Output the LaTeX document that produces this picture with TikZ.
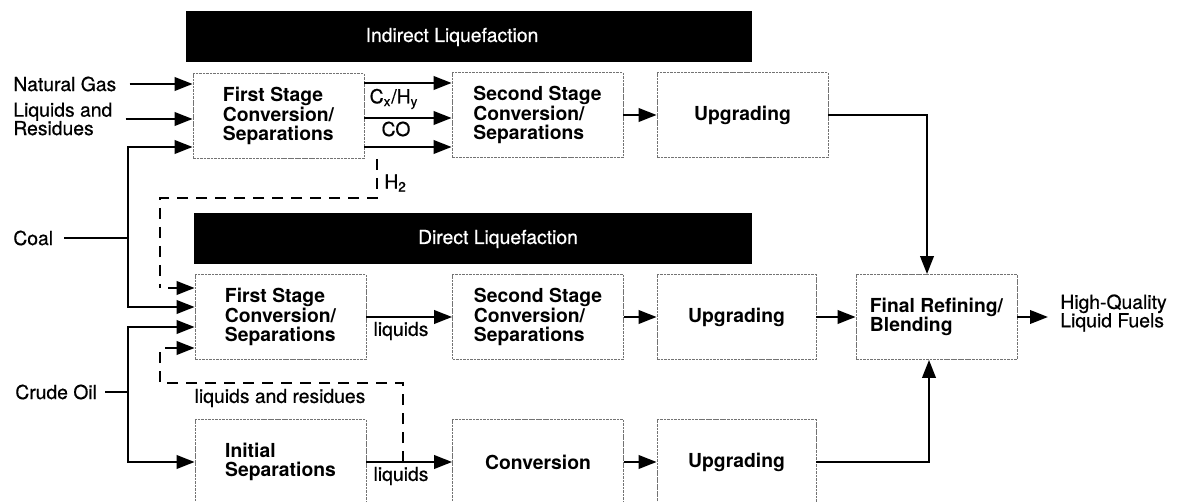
\documentclass[tikz,border=0pt]{standalone}
\usepackage{fontspec}
\setmainfont{TeX Gyre Heros}
\newfontfamily\medfont[FakeBold=0.6]{TeX Gyre Heros}
\usetikzlibrary{arrows.meta}

\tikzset{
  box/.style={draw=black!55,line width=0.5pt,dash pattern=on 1.5pt off 0.5pt,
    minimum width=3.42cm,minimum height=1.7cm,align=left,inner sep=0pt,
    font=\fontsize{11}{11.2}\selectfont\bfseries},
  bar/.style={fill=black,minimum height=1.02cm,inner sep=0pt},
  bartxt/.style={text=white,inner sep=0pt,font=\medfont\fontsize{11}{12}\selectfont},
  lbl/.style={align=left,inner sep=0pt,font=\medfont\fontsize{11}{10.5}\selectfont},
  flow/.style={line width=1.3pt},
  arr/.style={flow,-{Triangle[length=0.36cm,width=0.27cm]}},
  dsh/.style={line width=1.1pt,dash pattern=on 0.22cm off 0.16cm},
}

\begin{document}
\begin{tikzpicture}[x=0.02cm,y=-0.02cm]
  \useasboundingbox (0,0) rectangle (1200,502);
  \clip (0,0) rectangle (1200,502);
  \node[bar,minimum width=11.32cm] (indbar) at (469,37) {};
  \node[bartxt] (indtxt) at (452,37) {Indirect Liquefaction};
  \node[bar,minimum width=11.16cm] (dirbar) at (473,239) {};
  \node[bartxt] (dirtxt) at (498,239) {Direct Liquefaction};

  \node[box] (fsA) at (278.5,116) {First Stage\\Conversion/\\Separations};
  \node[box] (ssA) at (537.5,115) {Second Stage\\Conversion/\\Separations};
  \node[box] (upA) at (742.5,115) {Upgrading};
  \node[box] (fsB) at (280.5,317) {First Stage\\Conversion/\\Separations};
  \node[box] (ssB) at (538,317) {Second Stage\\Conversion/\\Separations};
  \node[box,minimum width=3.18cm] (upB) at (736.5,317) {Upgrading};
  \node[box,minimum width=3.22cm] (fin) at (936.5,317) {Final Refining/\\Blending};
  \node[box] (isC) at (280.5,462) {Initial\\Separations};
  \node[box] (cvC) at (538,462) {Conversion};
  \node[box,minimum width=3.18cm] (upC) at (736.5,462) {Upgrading};

  \node[lbl,anchor=west] (gas) at (13,84) {Natural Gas};
  \node[lbl,anchor=west] (liq) at (13,119) {Liquids and\\Residues};
  \node[lbl,anchor=west] (coal) at (13,238) {Coal};
  \node[lbl,anchor=west] (crude) at (15,392) {Crude Oil};
  \node[lbl,anchor=west] (fuels) at (1060,313) {High-Quality\\Liquid Fuels};
  \node[lbl] (cxhy) at (394,99) {C\textsubscript{x}/H\textsubscript{y}};
  \node[lbl] (co) at (396,129) {CO};
  \node[lbl,anchor=west] (htwo) at (384,183) {H\textsubscript{2}};
  \node[lbl] (liqB) at (401,331) {liquids};
  \node[lbl] (liqres) at (280,398) {liquids and residues};
  \node[lbl] (liqC) at (401,476) {liquids};

  \coordinate (coalj) at (128,238);
  \coordinate (crudej) at (128,392);
  \coordinate (htwoturn) at (160,288);
  \coordinate (lrsplit) at (403,462);
  \coordinate (lrturn) at (160,348);

  \draw[arr] ([xshift=0.26cm]gas.east) -- (fsA.west |- gas.east);
  \draw[arr] ([xshift=0.26cm]liq.east) -- (fsA.west |- liq.east);
  \draw[flow] ([xshift=0.22cm]coal.east) -- (coalj);
  \draw[arr] (coalj) |- (fsA.west |- 0,147);
  \draw[arr] (coalj) |- (fsB.west |- 0,307);
  \draw[flow] ([xshift=0.16cm]crude.east) -- (crudej);
  \draw[arr] (crudej) |- (fsB.west |- 0,327);
  \draw[arr] (crudej) |- (isC.west |- 0,462);

  \foreach \y in {83,118,147}
    \draw[arr] (fsA.east |- 0,\y) -- (ssA.west |- 0,\y);
  \draw[arr] (ssA) -- (upA);
  \draw[arr] (fsB) -- (ssB);
  \draw[arr] (ssB) -- (upB);
  \draw[arr] (upB) -- (fin);
  \draw[arr] (isC) -- (cvC);
  \draw[arr] (cvC) -- (upC);
  \draw[arr] (upA.east) -| (fin.north -| 927,0);
  \draw[arr] (upC.east) -| (fin.south -| 929,0);
  \draw[arr] (fin.east) -- ([xshift=-0.24cm]fuels.west |- fin.east);

  \draw[dsh] (fsA.south -| 377,0) -- ++(0,39) -| (htwoturn);
  \draw[arr] ([xshift=0.16cm]htwoturn) -- (fsB.west |- htwoturn);
  \draw[dsh] (lrsplit) -- ++(0,-79) -| (lrturn);
  \draw[arr] ([xshift=0.1cm]lrturn) -- (fsB.west |- lrturn);
\end{tikzpicture}
\end{document}
